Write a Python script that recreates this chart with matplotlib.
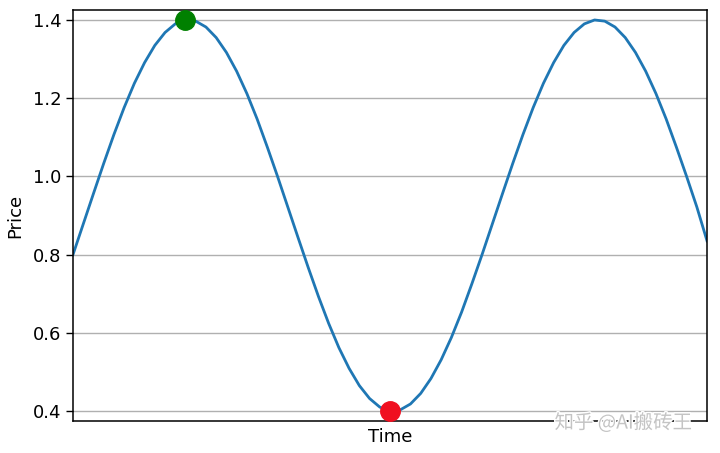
import matplotlib.pyplot as plt
import matplotlib.patheffects as pe

# price samples (one sample per step along the time axis)
price = [0.800, 0.878, 0.956, 1.033, 1.107, 1.176, 1.238, 1.291, 1.335, 1.368,
         1.390, 1.400, 1.397, 1.382, 1.355, 1.317, 1.269, 1.212, 1.147, 1.075,
         1.000, 0.922, 0.844, 0.767, 0.693, 0.624, 0.562, 0.509, 0.465, 0.432,
         0.410, 0.400, 0.403, 0.418, 0.445, 0.483, 0.531, 0.588, 0.653, 0.725,
         0.800, 0.878, 0.956, 1.033, 1.107, 1.176, 1.238, 1.291, 1.335, 1.368,
         1.390, 1.400, 1.397, 1.382, 1.355, 1.317, 1.269, 1.212, 1.147, 1.075,
         1.000, 0.922, 0.835]
time = list(range(len(price)))

# highlighted points
peak_idx = 11
trough_idx = 31

yticks = [0.4, 0.6, 0.8, 1.0, 1.2, 1.4]

fig = plt.figure(figsize=(7.2, 4.53), dpi=100)
ax = fig.add_axes([0.1014, 0.0706, 0.8806, 0.9074])

ax.plot(time, price, color='#1f77b4', linewidth=2.0, solid_joinstyle='round', zorder=2)
ax.plot(time[peak_idx], price[peak_idx], 'o', color='green', markersize=14, zorder=3)
ax.plot(time[trough_idx], price[trough_idx], 'o', color='#f01020', markersize=14, zorder=3)

ax.set_xlim(time[0], time[-1])
ax.set_ylim(0.3744, 1.4256)
ax.set_xticks([])
ax.set_yticks(yticks)
ax.set_yticklabels([f'{v:.1f}' for v in yticks], fontsize=13)
ax.tick_params(axis='y', length=5, width=1)
ax.yaxis.grid(True, color='#b0b0b0', linewidth=1.0)
ax.set_axisbelow(True)
for s in ax.spines.values():
    s.set_linewidth(1.1)

ax.set_xlabel('Time', fontsize=13, labelpad=5)
ax.set_ylabel('Price', fontsize=13, labelpad=6)

# platform watermark
fig.text(0.866, 0.066, '知乎 @AI搬砖王', fontsize=14, color='#c4c4c4',
         ha='center', va='center', family=['Noto Sans CJK SC', 'DejaVu Sans'],
         path_effects=[pe.withStroke(linewidth=2, foreground='white')], zorder=5)

fig.savefig('out.png', dpi=100)
